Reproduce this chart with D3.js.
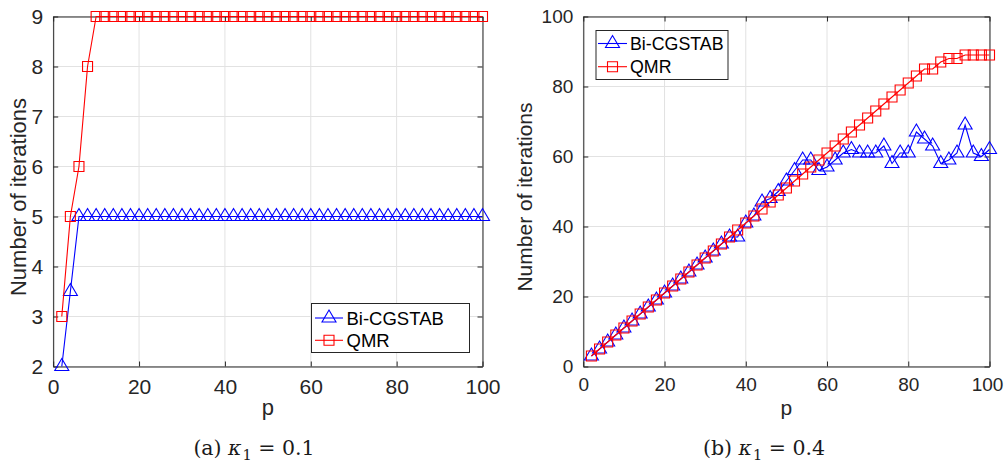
<!DOCTYPE html>
<html>
<head>
<meta charset="utf-8">
<script src="https://cdn.jsdelivr.net/npm/d3@7"></script>
<style>
  html, body { margin: 0; padding: 0; background: #fff; }
  svg { display: block; }
  .tick text { font-family: "Liberation Sans", Arial, Helvetica, sans-serif; fill: #262626; }
</style>
</head>
<body>
<script>
// Problem sizes p (x axis)
const pValues = [2, 4, 6, 8, 10, 12, 14, 16, 18, 20,
                 22, 24, 26, 28, 30, 32, 34, 36, 38, 40,
                 42, 44, 46, 48, 50, 52, 54, 56, 58, 60,
                 62, 64, 66, 68, 70, 72, 74, 76, 78, 80,
                 82, 84, 86, 88, 90, 92, 94, 96, 98, 100];

// (a) kappa_1 = 0.1
const leftBiCGSTAB = [2, 3.5, 5, 5, 5, 5, 5, 5, 5, 5,
                      5, 5, 5, 5, 5, 5, 5, 5, 5, 5,
                      5, 5, 5, 5, 5, 5, 5, 5, 5, 5,
                      5, 5, 5, 5, 5, 5, 5, 5, 5, 5,
                      5, 5, 5, 5, 5, 5, 5, 5, 5, 5];
const leftQMR = [3, 5, 6, 8, 9, 9, 9, 9, 9, 9,
                 9, 9, 9, 9, 9, 9, 9, 9, 9, 9,
                 9, 9, 9, 9, 9, 9, 9, 9, 9, 9,
                 9, 9, 9, 9, 9, 9, 9, 9, 9, 9,
                 9, 9, 9, 9, 9, 9, 9, 9, 9, 9];

// (b) kappa_1 = 0.4
const rightBiCGSTAB = [3, 5, 7, 9, 11, 13, 15, 17, 19, 21,
                       23, 25, 27, 29, 31, 33, 35, 37, 37, 41,
                       43, 47, 48, 50, 53, 56, 59, 59, 56, 57,
                       59, 61, 62, 61, 61, 61, 63, 58, 61, 61,
                       67, 65, 63, 58, 59, 61, 69, 61, 60, 62];
const rightQMR = [3, 5, 7, 9, 11, 13, 15, 17, 19, 21,
                  23, 25, 27, 29, 31, 33, 35, 37, 39, 41,
                  43, 45, 47, 49, 51, 53, 55, 57, 59, 61,
                  63, 65, 67, 69, 71, 73, 75, 77, 79, 81,
                  83, 85, 85, 87, 88, 88, 89, 89, 89, 89];

const xTicks = [0, 20, 40, 60, 80, 100];
const leftYTicks = [2, 3, 4, 5, 6, 7, 8, 9];
const rightYTicks = [0, 20, 40, 60, 80, 100];
const seriesNames = ["Bi-CGSTAB", "QMR"];
const xLabel = "p";
const yLabel = "Number of iterations";

const W = 1004, H = 463;
const AXIS = "#262626", GRID = "#e2e2e2";
const BLUE = "#0000ff", RED = "#ff0000";
const SANS = '"Liberation Sans", Arial, Helvetica, sans-serif';
const SERIF = '"DejaVu Serif", "Liberation Serif", serif';

const svg = d3.select("body").append("svg")
  .attr("width", W).attr("height", H)
  .attr("viewBox", `0 0 ${W} ${H}`);

// open triangle centred on its centroid, open square centred on the point
const triPath = "M0,-8 L7,4 L-7,4 Z";
const sqPath = "M-5,-5 H5 V5 H-5 Z";
const intFmt = d3.format("d");

function drawPanel(cfg) {
  const x = d3.scaleLinear().domain([0, 100]).range([cfg.x0, cfg.x1]);
  const y = d3.scaleLinear().domain(cfg.yDomain).range([366.5, 16.5]);
  const g = svg.append("g");

  // grid
  g.append("g").selectAll("line").data(xTicks).join("line")
    .attr("x1", d => x(d)).attr("x2", d => x(d))
    .attr("y1", y.range()[0]).attr("y2", y.range()[1])
    .attr("stroke", GRID).attr("stroke-width", 1);
  g.append("g").selectAll("line").data(cfg.yTicks).join("line")
    .attr("y1", d => y(d)).attr("y2", d => y(d))
    .attr("x1", cfg.x0).attr("x2", cfg.x1)
    .attr("stroke", GRID).attr("stroke-width", 1);

  // axes with inward ticks, box on
  const bottom = g.append("g").attr("transform", `translate(0,${y.range()[0]})`)
    .call(d3.axisBottom(x).tickValues(xTicks).tickFormat(intFmt)
      .tickSizeInner(-5).tickSizeOuter(0).tickPadding(cfg.tickFs * 0.6));
  const left = g.append("g").attr("transform", `translate(${cfg.x0},0)`)
    .call(d3.axisLeft(y).tickValues(cfg.yTicks).tickFormat(intFmt)
      .tickSizeInner(-5).tickSizeOuter(0).tickPadding(10));
  const top = g.append("g").attr("transform", `translate(0,${y.range()[1]})`)
    .call(d3.axisTop(x).tickValues(xTicks).tickSizeInner(-5).tickSizeOuter(0).tickFormat(""));
  const right = g.append("g").attr("transform", `translate(${cfg.x1},0)`)
    .call(d3.axisRight(y).tickValues(cfg.yTicks).tickSizeInner(-5).tickSizeOuter(0).tickFormat(""));
  [bottom, left, top, right].forEach(a => {
    a.select(".domain").attr("stroke", AXIS).attr("stroke-width", 1);
    a.selectAll(".tick line").attr("stroke", AXIS).attr("stroke-width", 1);
    a.selectAll(".tick text").attr("font-size", cfg.tickFs);
  });
  // keep the last x tick label inside the page edge
  bottom.selectAll(".tick text").filter(d => d === 100).attr("dx", cfg.lastTickDx || 0);

  // series
  const line = d3.line().x((d, i) => x(pValues[i])).y(d => y(d));
  const series = [
    { values: cfg.bicg, color: BLUE, shape: triPath },
    { values: cfg.qmr, color: RED, shape: sqPath }
  ];
  series.forEach(s => {
    g.append("path").datum(s.values).attr("d", line)
      .attr("fill", "none").attr("stroke", s.color).attr("stroke-width", 1.1);
    g.append("g").selectAll("path").data(s.values).join("path")
      .attr("d", s.shape)
      .attr("transform", (d, i) => `translate(${x(pValues[i])},${y(d)})`)
      .attr("fill", "none").attr("stroke", s.color).attr("stroke-width", 1.1);
  });

  // axis labels
  g.append("text").text(xLabel)
    .attr("x", (cfg.x0 + cfg.x1) / 2).attr("y", 415)
    .attr("text-anchor", "middle").attr("font-family", SANS)
    .attr("font-size", cfg.labelFs).attr("fill", AXIS);
  g.append("text").text(yLabel)
    .attr("transform", `translate(${cfg.yLabelX},197) rotate(-90)`)
    .attr("text-anchor", "middle").attr("font-family", SANS)
    .attr("font-size", cfg.labelFs).attr("fill", AXIS);

  // legend
  const L = cfg.legend;
  const lg = g.append("g");
  lg.append("rect").attr("x", L.x).attr("y", L.y).attr("width", L.w).attr("height", L.h)
    .attr("fill", "#fff").attr("stroke", AXIS).attr("stroke-width", 1);
  series.forEach((s, i) => {
    const cy = L.row0 + i * L.rowGap;
    lg.append("line").attr("x1", L.lx0).attr("x2", L.lx1).attr("y1", cy).attr("y2", cy)
      .attr("stroke", s.color).attr("stroke-width", 1.1);
    lg.append("path").attr("d", s.shape)
      .attr("transform", `translate(${(L.lx0 + L.lx1) / 2},${cy})`)
      .attr("fill", "none").attr("stroke", s.color).attr("stroke-width", 1.1);
    lg.append("text").text(seriesNames[i])
      .attr("x", L.tx).attr("y", cy + 6.6)
      .attr("font-family", SANS).attr("font-size", L.fs).attr("fill", "#000");
  });

  // caption
  const cap = svg.append("text")
    .attr("x", cfg.capX).attr("y", 455)
    .attr("text-anchor", "middle")
    .attr("font-family", SERIF).attr("font-size", 20.5).attr("fill", "#1a1a1a");
  cap.append("tspan").text(cfg.capTag + " ");
  cap.append("tspan").text("κ").attr("font-style", "italic");
  cap.append("tspan").text("1").attr("font-size", 14.5).attr("dy", 5).attr("dx", 1);
  cap.append("tspan").text(" = ").attr("dy", -5);
  cap.append("tspan").text(cfg.capVal);
}

drawPanel({
  x0: 53.2, x1: 482.5, yDomain: [2, 9], yTicks: leftYTicks,
  bicg: leftBiCGSTAB, qmr: leftQMR, yLabelX: 25.5, tickFs: 21, labelFs: 22,
  legend: { x: 311.5, y: 303.5, w: 158, h: 49, row0: 318, rowGap: 22.3,
            lx0: 315, lx1: 343, tx: 346.5, fs: 18.5 },
  capX: 254, capTag: "(a)", capVal: "0.1"
});

drawPanel({
  x0: 583.3, x1: 989.5, yDomain: [0, 100], yTicks: rightYTicks,
  bicg: rightBiCGSTAB, qmr: rightQMR, yLabelX: 531.5, tickFs: 19, labelFs: 21,
  lastTickDx: -2.5,
  legend: { x: 596, y: 30.5, w: 132, h: 49, row0: 43.5, rowGap: 23.2,
            lx0: 598, lx1: 627, tx: 630, fs: 17.8 },
  capX: 764, capTag: "(b)", capVal: "0.4"
});
</script>
</body>
</html>
